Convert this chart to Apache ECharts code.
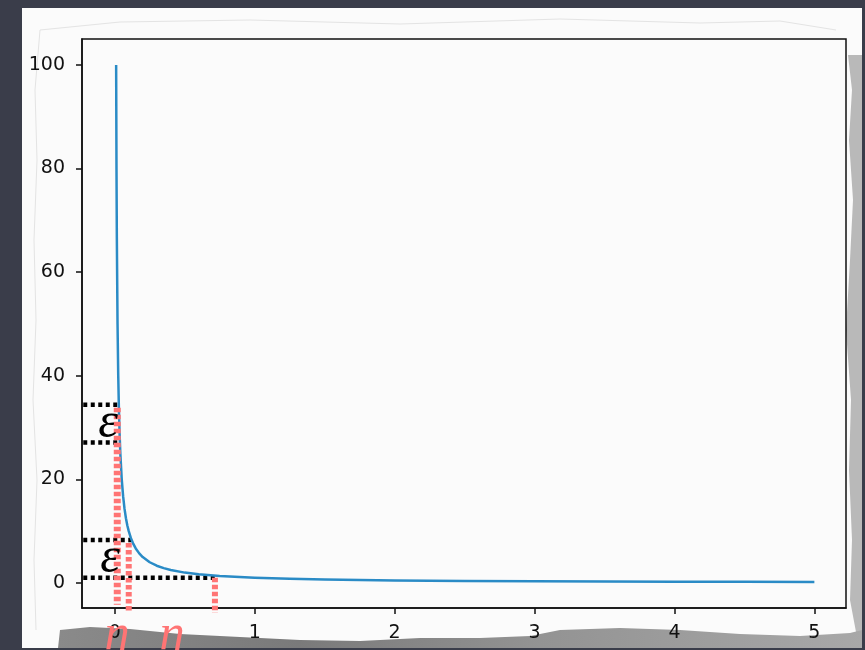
<html>
<head>
    <meta charset="utf-8">
    <title>1/x</title>
    <script src="https://cdn.jsdelivr.net/npm/echarts@6.0.0/dist/echarts.min.js"></script>
    <style>
        html, body { margin: 0; padding: 0; background: #3a3d4a; }
    </style>
</head>
<body>
    <div id="chartmain" style="width: 865px; height: 650px;"></div>

    <script type="text/javascript">
        // 曲线 y = 1/x 的读数点
        var curveX = [0.01, 0.0125, 0.015, 0.02, 0.025, 0.03, 0.035, 0.04, 0.05, 0.06, 0.07, 0.08, 0.09, 0.1, 0.115, 0.13, 0.15, 0.175, 0.2, 0.25, 0.3, 0.35, 0.4, 0.5, 0.6, 0.75, 1, 1.25, 1.5, 2, 2.5, 3, 3.5, 4, 4.5, 5];
        var curveY = [100, 80, 66.7, 50, 40, 33.3, 28.6, 25, 20, 16.7, 14.3, 12.5, 11.1, 10, 8.7, 7.7, 6.67, 5.71, 5, 4, 3.33, 2.86, 2.5, 2, 1.67, 1.33, 1, 0.8, 0.67, 0.5, 0.4, 0.33, 0.29, 0.25, 0.22, 0.2];

        // 刻度
        var xTicks = [0, 1, 2, 3, 4, 5];
        var yTicks = [0, 20, 40, 60, 80, 100];

        // 黑色虚线 (epsilon)
        var epsY = [34.4, 27.1, 8.3, 1.0];
        var epsStartX = -0.225;
        var epsEndX = [0.03, 0.03, 0.12, 0.73];

        // 红色虚线 (eta)
        var etaX = [0.018, 0.10, 0.716];
        var etaTopY = [33.8, 7.7, 1.0];
        var etaBottomY = [-4.2, -5.4, -5.8];
        var etaWidth = [7, 6, 6];

        var myChart = echarts.init(document.getElementById('chartmain'));

        var series = [];

        epsY.forEach(function (y, i) {
            series.push({
                type: 'line',
                data: [[epsStartX, y], [epsEndX[i], y]],
                symbol: 'none',
                silent: true,
                clip: false,
                z: 3,
                lineStyle: { color: '#000', width: 4.5, type: [4, 3.5], cap: 'butt' }
            });
        });

        series.push({
            type: 'line',
            data: curveX.map(function (x, i) { return [x, curveY[i]]; }),
            symbol: 'none',
            smooth: false,
            z: 4,
            lineStyle: { color: '#2a8bc6', width: 2.5, join: 'round' }
        });

        etaX.forEach(function (x, i) {
            series.push({
                type: 'line',
                data: [[x, etaTopY[i]], [x, etaBottomY[i]]],
                symbol: 'none',
                silent: true,
                clip: false,
                z: 5,
                lineStyle: { color: '#ff7474', width: etaWidth[i], type: [4.5, 2.5], cap: 'butt' }
            });
        });

        var axisLabelStyle = {
            color: '#111',
            fontFamily: 'DejaVu Sans',
            fontSize: 19
        };

        var symbolFont = 'italic 50px "Liberation Serif"';

        myChart.setOption({
            backgroundColor: '#3a3d4a',
            animation: false,
            grid: {
                left: 82, right: 19, top: 39, bottom: 42,
                show: true,
                borderColor: '#111',
                borderWidth: 1.5,
                backgroundColor: 'transparent'
            },
            xAxis: {
                type: 'value',
                min: -0.234,
                max: 5.226,
                splitLine: { show: false },
                axisLine: { onZero: false, lineStyle: { color: '#111', width: 1.5 } },
                axisTick: { customValues: xTicks, length: 6, lineStyle: { color: '#111', width: 1.5 } },
                axisLabel: Object.assign({ customValues: xTicks, margin: 16 }, axisLabelStyle)
            },
            yAxis: {
                type: 'value',
                min: -4.83,
                max: 105,
                splitLine: { show: false },
                axisLine: { onZero: false, lineStyle: { color: '#111', width: 1.5 } },
                axisTick: { customValues: yTicks, length: 6, lineStyle: { color: '#111', width: 1.5 } },
                axisLabel: Object.assign({ customValues: yTicks, margin: 17 }, axisLabelStyle)
            },
            graphic: [
                // 白纸
                {
                    type: 'rect', z: -10, silent: true,
                    shape: { x: 22, y: 8, width: 840, height: 640 },
                    style: { fill: '#fbfbfb' }
                },
                // 纸边撕痕
                {
                    type: 'polyline', z: -9, silent: true,
                    shape: {
                        points: [[36, 630], [34, 560], [37, 480], [33, 400], [36, 320], [34, 240], [37, 160], [35, 90],
                            [40, 30], [120, 22], [250, 20], [400, 24], [560, 19], [700, 23], [780, 21], [836, 30]]
                    },
                    style: { stroke: '#e4e4e4', lineWidth: 1, fill: null }
                },
                // 右侧阴影
                {
                    type: 'polygon', z: -9, silent: true,
                    shape: {
                        points: [[848, 55], [852, 90], [849, 140], [853, 200], [850, 260], [846, 330], [851, 400],
                            [849, 470], [852, 540], [850, 600], [856, 632], [862, 632], [862, 55]]
                    },
                    style: { fill: '#b9b9b9' }
                },
                // 底部阴影
                {
                    type: 'polygon', z: -9, silent: true,
                    shape: {
                        points: [[58, 648], [60, 630], [90, 627], [130, 629], [180, 634], [240, 637], [300, 640],
                            [360, 641], [420, 638], [480, 638], [530, 636], [560, 630], [620, 628], [680, 630],
                            [740, 634], [800, 636], [850, 633], [862, 630], [862, 648]]
                    },
                    style: {
                        fill: {
                            type: 'linear', x: 0, y: 0, x2: 1, y2: 0,
                            colorStops: [
                                { offset: 0, color: '#8a8a8a' },
                                { offset: 0.3, color: '#7a7a7a' },
                                { offset: 0.6, color: '#939393' },
                                { offset: 1, color: '#a8a8a8' }
                            ]
                        }
                    }
                },
                // 底部暗边
                {
                    type: 'rect', z: -8, silent: true,
                    shape: { x: 0, y: 648, width: 865, height: 2 },
                    style: { fill: '#3a3d4a' }
                },
                // epsilon
                {
                    type: 'text', z: 100, silent: true,
                    x: 108, y: 424,
                    style: { text: 'ε', fill: '#000', font: symbolFont, align: 'center', verticalAlign: 'middle' }
                },
                {
                    type: 'text', z: 100, silent: true,
                    x: 110, y: 559,
                    style: { text: 'ε', fill: '#000', font: symbolFont, align: 'center', verticalAlign: 'middle' }
                },
                // eta
                {
                    type: 'text', z: 100, silent: true,
                    x: 117, y: 636,
                    style: { text: 'η', fill: '#ff7474', font: symbolFont, align: 'center', verticalAlign: 'middle' }
                },
                {
                    type: 'text', z: 100, silent: true,
                    x: 172, y: 636,
                    style: { text: 'η', fill: '#ff7474', font: symbolFont, align: 'center', verticalAlign: 'middle' }
                }
            ],
            series: series
        });
    </script>
</body>
</html>
